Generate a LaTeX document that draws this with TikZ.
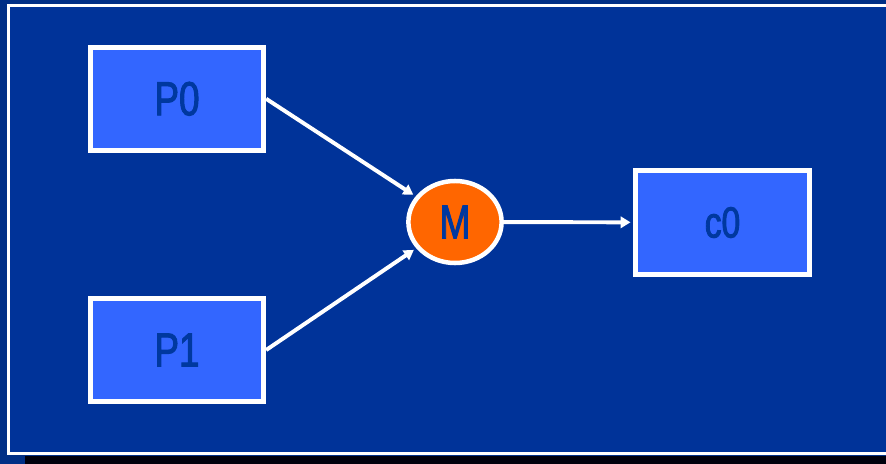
\documentclass[tikz,border=0pt]{standalone}
\usepackage{fontspec}
\newfontfamily\narrowsf[FakeStretch=0.77,FakeBold=2]{Liberation Sans}
\usetikzlibrary{shapes.geometric,arrows.meta}

\definecolor{slidebg}{HTML}{003399}
\definecolor{slideedge}{HTML}{002F86}
\definecolor{procfill}{HTML}{3366FF}
\definecolor{mergefill}{HTML}{FF6600}
\definecolor{labelblue}{HTML}{00389F}

\begin{document}
\begin{tikzpicture}[x=0.025cm,y=-0.025cm,
    proc/.style={draw=white,line width=3.6pt,fill=procfill,inner sep=0pt,
      minimum width=4.33cm,minimum height=2.58cm,
      text=labelblue,font=\narrowsf\fontsize{34}{38}\selectfont},
    merge/.style={ellipse,draw=white,line width=3.2pt,fill=mergefill,inner sep=0pt,
      minimum width=2.33cm,minimum height=2.05cm,
      text=labelblue,font=\narrowsf\fontsize{34}{38}\selectfont},
    flow/.style={draw=white,line width=2.8pt,shorten >=2pt,
      -{Triangle[length=7pt,width=8pt]}}]
  \useasboundingbox (0,0) rectangle (886,464);
  \clip (0,0) rectangle (886,464);

  % slide frame and shadow
  \fill[slideedge] (0,0) rectangle (886,464);
  \draw[white,line width=1.8pt,fill=slidebg] (8.7,5.5) rectangle (900,453.5);
  \fill[black!95!blue] (25,455.5) rectangle (900,470);

  \node[proc] (p0) at (177,98.8) {P0};
  \node[proc] (p1) at (177,350) {P1};
  \node[merge] (m) at (455,222) {M};
  \node[proc,font=\narrowsf\fontsize{31}{35}\selectfont] (c0) at (722.5,222.5) {c0};

  \draw[flow] (p0.east) -- (m);
  \draw[flow] (p1.east) -- (m);
  \draw[flow] (m) -- (c0);
\end{tikzpicture}
\end{document}
